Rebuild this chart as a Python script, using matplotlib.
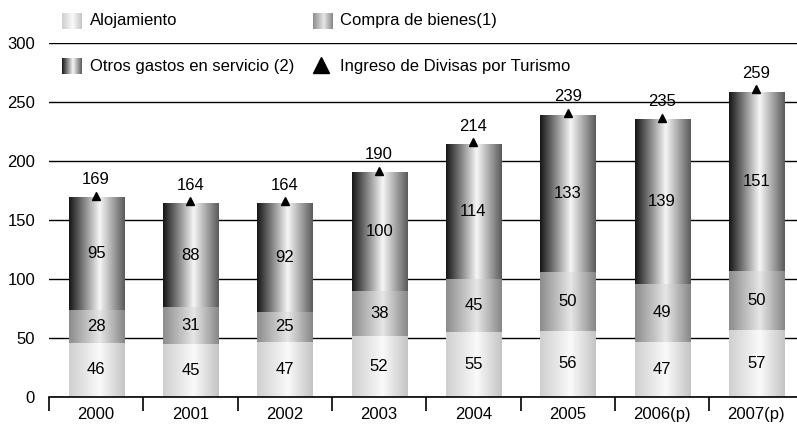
import numpy as np
import matplotlib
matplotlib.use('Agg')
import matplotlib.pyplot as plt
from matplotlib.colors import LinearSegmentedColormap
from matplotlib.lines import Line2D
from matplotlib.transforms import offset_copy

plt.rcParams['font.family'] = ['Liberation Sans', 'DejaVu Sans']

years = ['2000', '2001', '2002', '2003', '2004', '2005', '2006(p)', '2007(p)']
alojamiento = [46, 45, 47, 52, 55, 56, 47, 57]
compra = [28, 31, 25, 38, 45, 50, 49, 50]
otros = [95, 88, 92, 100, 114, 133, 139, 151]
ingreso = [169, 164, 164, 190, 214, 239, 235, 259]

# horizontal "cylinder" gradients for each series
cm_aloj = LinearSegmentedColormap.from_list('aloj', [(0, '#cfcfcf'), (0.55, '#fafafa'), (1, '#c4c4c4')])
cm_comp = LinearSegmentedColormap.from_list('comp', [(0, '#8c8c8c'), (0.55, '#e6e6e6'), (1, '#878787')])
cm_otro = LinearSegmentedColormap.from_list('otro', [(0, '#151515'), (0.55, '#f6f6f6'), (1, '#5a5a5a')])
grad = np.linspace(0, 1, 256).reshape(1, -1)

fs = 12

fig = plt.figure(figsize=(7.97, 4.30), dpi=100)
ax = fig.add_axes([49 / 797, 33 / 430, 754.6 / 797, 354 / 430])

x = np.arange(len(years))
width = 0.585

bottom = np.zeros(len(years))
for vals, cmap in [(alojamiento, cm_aloj), (compra, cm_comp), (otros, cm_otro)]:
    for i, v in enumerate(vals):
        x0 = x[i] - width / 2
        ax.imshow(grad, cmap=cmap, aspect='auto', extent=(x0, x0 + width, bottom[i], bottom[i] + v),
                  zorder=2, interpolation='bilinear')
        ax.text(x[i], bottom[i] + v / 2, str(v), ha='center', va='center', fontsize=fs, zorder=4)
    bottom += np.array(vals)

ax.set_xlim(-0.5, len(years) - 0.5)
ax.set_ylim(0, 300)

tri = offset_copy(ax.transData, fig=fig, y=2, units='dots')
ax.plot(x, ingreso, linestyle='none', marker='^', color='black', markersize=6,
        zorder=5, clip_on=False, transform=tri)
for i, v in enumerate(ingreso):
    ax.text(x[i], v + 9, str(v), ha='center', va='bottom', fontsize=fs, zorder=5)

for s in ['top', 'right', 'left']:
    ax.spines[s].set_visible(False)
ax.spines['bottom'].set_linewidth(1.2)

ax.set_yticks(range(0, 301, 50))
ax.tick_params(axis='y', length=0, pad=10, labelsize=fs)
ax.yaxis.grid(True, color='black', linewidth=1.0, zorder=0)
ax.set_axisbelow(True)

ax.set_xticks(x)
ax.set_xticklabels(years, fontsize=fs)
ax.set_xticks(np.arange(-0.5, len(years), 1), minor=True)
ax.tick_params(axis='x', which='major', length=0, pad=7)
ax.tick_params(axis='x', which='minor', length=10, width=1.2, direction='out')

# legend in figure coordinates
def grad_patch(xpix, ypix, cmap):
    lax = fig.add_axes([xpix / 797, 1 - (ypix + 16) / 430, 20 / 797, 16 / 430])
    lax.imshow(grad, cmap=cmap, aspect='auto', interpolation='bilinear')
    lax.axis('off')

lfs = 12
grad_patch(62, 13, cm_aloj)
fig.text(90 / 797, 1 - 21 / 430, 'Alojamiento', fontsize=lfs, va='center')
grad_patch(313, 13, cm_comp)
fig.text(340 / 797, 1 - 21 / 430, 'Compra de bienes(1)', fontsize=lfs, va='center')
grad_patch(62, 58, cm_otro)
fig.text(90 / 797, 1 - 66 / 430, 'Otros gastos en servicio (2)', fontsize=lfs, va='center')
fig.add_artist(Line2D([321 / 797], [1 - 65 / 430], marker='^', color='black', markersize=11,
                      linestyle='none', transform=fig.transFigure))
fig.text(340 / 797, 1 - 66 / 430, 'Ingreso de Divisas por Turismo', fontsize=lfs, va='center')

fig.savefig('out.png', dpi=100)
